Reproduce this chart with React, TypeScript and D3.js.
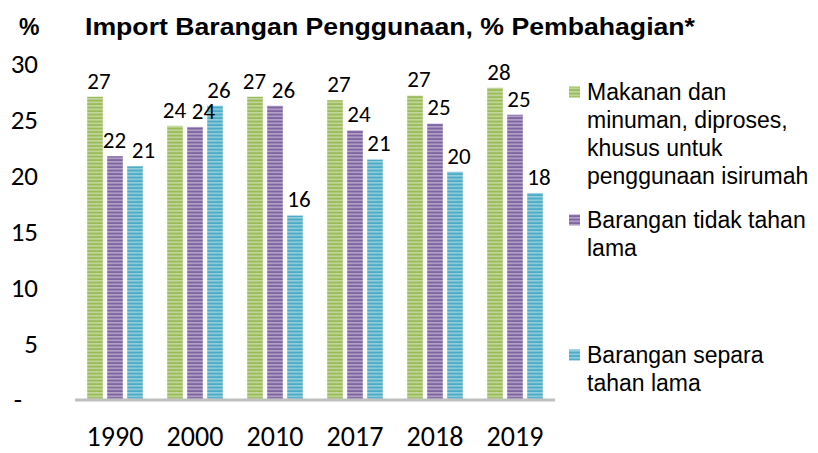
import { useEffect, useRef } from "react";
import * as d3 from "d3";

const years = ["1990", "2000", "2010", "2017", "2018", "2019"];
const seriesNames = ["makanan", "tidakTahan", "separaTahan"];
const makanan = [27.0, 24.4, 27.0, 26.7, 27.1, 27.8];
const tidakTahan = [21.7, 24.3, 26.2, 24.0, 24.6, 25.4];
const separaTahan = [20.8, 26.2, 16.4, 21.4, 20.3, 18.4];
const yTicks = [0, 5, 10, 15, 20, 25, 30];
const legendLines = [
  ["Makanan dan", "minuman, diproses,", "khusus untuk", "penggunaan isirumah"],
  ["Barangan tidak tahan", "lama"],
  ["Barangan separa", "tahan lama"],
];

const baseColors = ["#9bbb59", "#8064a2", "#4bacc6"];
const stripeColors = ["#c3d69b", "#b3a2c7", "#93cddd"];

export default function App() {
  const ref = useRef<SVGSVGElement | null>(null);

  useEffect(() => {
    const marginLeft = 75;
    const plotRight = 555;
    const marginTop = 63;
    const baseline = 399;

    const svg = d3.select(ref.current);
    svg.selectAll("*").remove();

    const values = [makanan, tidakTahan, separaTahan];

    // striped fills
    const defs = svg.append("defs");
    seriesNames.forEach((s, i) => {
      const p = defs
        .append("pattern")
        .attr("id", `stripe-${s}`)
        .attr("patternUnits", "userSpaceOnUse")
        .attr("width", 8)
        .attr("height", 3.5);
      p.append("rect").attr("width", 8).attr("height", 3.5).attr("fill", baseColors[i]);
      p.append("rect").attr("width", 8).attr("height", 1.6).attr("fill", stripeColors[i]);
    });

    const x0 = d3.scaleBand().domain(years).range([marginLeft, plotRight]);
    const x1 = d3
      .scaleBand()
      .domain(seriesNames)
      .range([x0.bandwidth() * 0.15, x0.bandwidth() * 0.85])
      .paddingInner(0.2);
    const y = d3.scaleLinear().domain([0, 30]).range([baseline, marginTop]);

    const numFont = "Carlito, Lato, sans-serif";
    const textFont = "Arial, 'Liberation Sans', sans-serif";

    // title
    svg
      .append("text")
      .attr("x", 19)
      .attr("y", 35)
      .attr("font-family", textFont)
      .attr("font-weight", "bold")
      .attr("font-size", 23)
      .text("%");
    svg
      .append("text")
      .attr("x", 85)
      .attr("y", 35)
      .attr("font-family", textFont)
      .attr("font-weight", "bold")
      .attr("font-size", 23)
      .attr("textLength", 610)
      .attr("lengthAdjust", "spacingAndGlyphs")
      .text("Import Barangan Penggunaan, % Pembahagian*");

    // y ticks
    svg
      .append("g")
      .selectAll("text")
      .data(yTicks)
      .join("text")
      .attr("x", (d) => (d === 0 ? 22 : 38))
      .attr("y", (d) => y(d))
      .attr("dy", "0.36em")
      .attr("text-anchor", "end")
      .attr("font-family", numFont)
      .attr("font-size", 27)
      .attr("fill", "#000")
      .text((d) => (d === 0 ? "-" : String(d)));

    // bars
    const groups = svg
      .append("g")
      .selectAll("g")
      .data(years)
      .join("g")
      .attr("transform", (d) => `translate(${x0(d)},0)`);

    groups
      .selectAll("rect")
      .data((_, yi) => seriesNames.map((s, si) => ({ s, si, v: values[si][yi] })))
      .join("rect")
      .attr("x", (d) => x1(d.s)!)
      .attr("y", (d) => y(d.v))
      .attr("width", x1.bandwidth())
      .attr("height", (d) => baseline - y(d.v))
      .attr("fill", (d) => `url(#stripe-${d.s})`)
      .attr("stroke", "#ffffff")
      .attr("stroke-opacity", 0.5)
      .attr("stroke-width", 0.8);

    // value labels, nudged sideways when neighbours collide
    const labelW = 27;
    const labelData = (yi: number) => {
      const ls = seriesNames.map((s, si) => ({
        v: values[si][yi],
        x: x1(s)! + x1.bandwidth() / 2 + 4,
        y: y(values[si][yi]) - 8,
      }));
      for (let i = 1; i < ls.length; i++) {
        const a = ls[i - 1];
        const b = ls[i];
        const gap = b.x - a.x;
        if (Math.abs(a.y - b.y) < 17 && gap < labelW + 2) {
          const push = (labelW + 2 - gap) / 2;
          a.x -= push;
          b.x += push;
        }
      }
      return ls;
    };

    groups
      .selectAll("text")
      .data((_, yi) => labelData(yi))
      .join("text")
      .attr("x", (d) => d.x)
      .attr("y", (d) => d.y)
      .attr("text-anchor", "middle")
      .attr("font-family", numFont)
      .attr("font-size", 23)
      .attr("fill", "#000")
      .text((d) => String(Math.round(d.v)));

    // baseline
    svg
      .append("line")
      .attr("x1", marginLeft)
      .attr("x2", plotRight)
      .attr("y1", baseline + 1)
      .attr("y2", baseline + 1)
      .attr("stroke", "#bfbfbf")
      .attr("stroke-width", 3);

    // x labels
    svg
      .append("g")
      .selectAll("text")
      .data(years)
      .join("text")
      .attr("x", (d) => x0(d)! + x0.bandwidth() / 2)
      .attr("y", 446)
      .attr("text-anchor", "middle")
      .attr("font-family", numFont)
      .attr("font-size", 28)
      .attr("fill", "#000")
      .text((d) => d);

    // legend
    const legendTop = [92, 220, 355];
    const leg = svg.append("g");
    legendLines.forEach((lines, i) => {
      leg
        .append("rect")
        .attr("x", 569)
        .attr("y", legendTop[i] - 5.5)
        .attr("width", 11)
        .attr("height", 11)
        .attr("fill", `url(#stripe-${seriesNames[i]})`);
      leg
        .append("text")
        .attr("font-family", textFont)
        .attr("font-size", 23)
        .attr("fill", "#000")
        .selectAll("tspan")
        .data(lines)
        .join("tspan")
        .attr("x", 587)
        .attr("y", (_, li) => legendTop[i] + li * 28)
        .attr("dy", "0.36em")
        .text((d) => d);
    });
  }, []);

  return (
    <svg
      ref={ref}
      width={818}
      height={453}
      style={{ position: "absolute", left: 0, top: 0, background: "#fff" }}
    />
  );
}
